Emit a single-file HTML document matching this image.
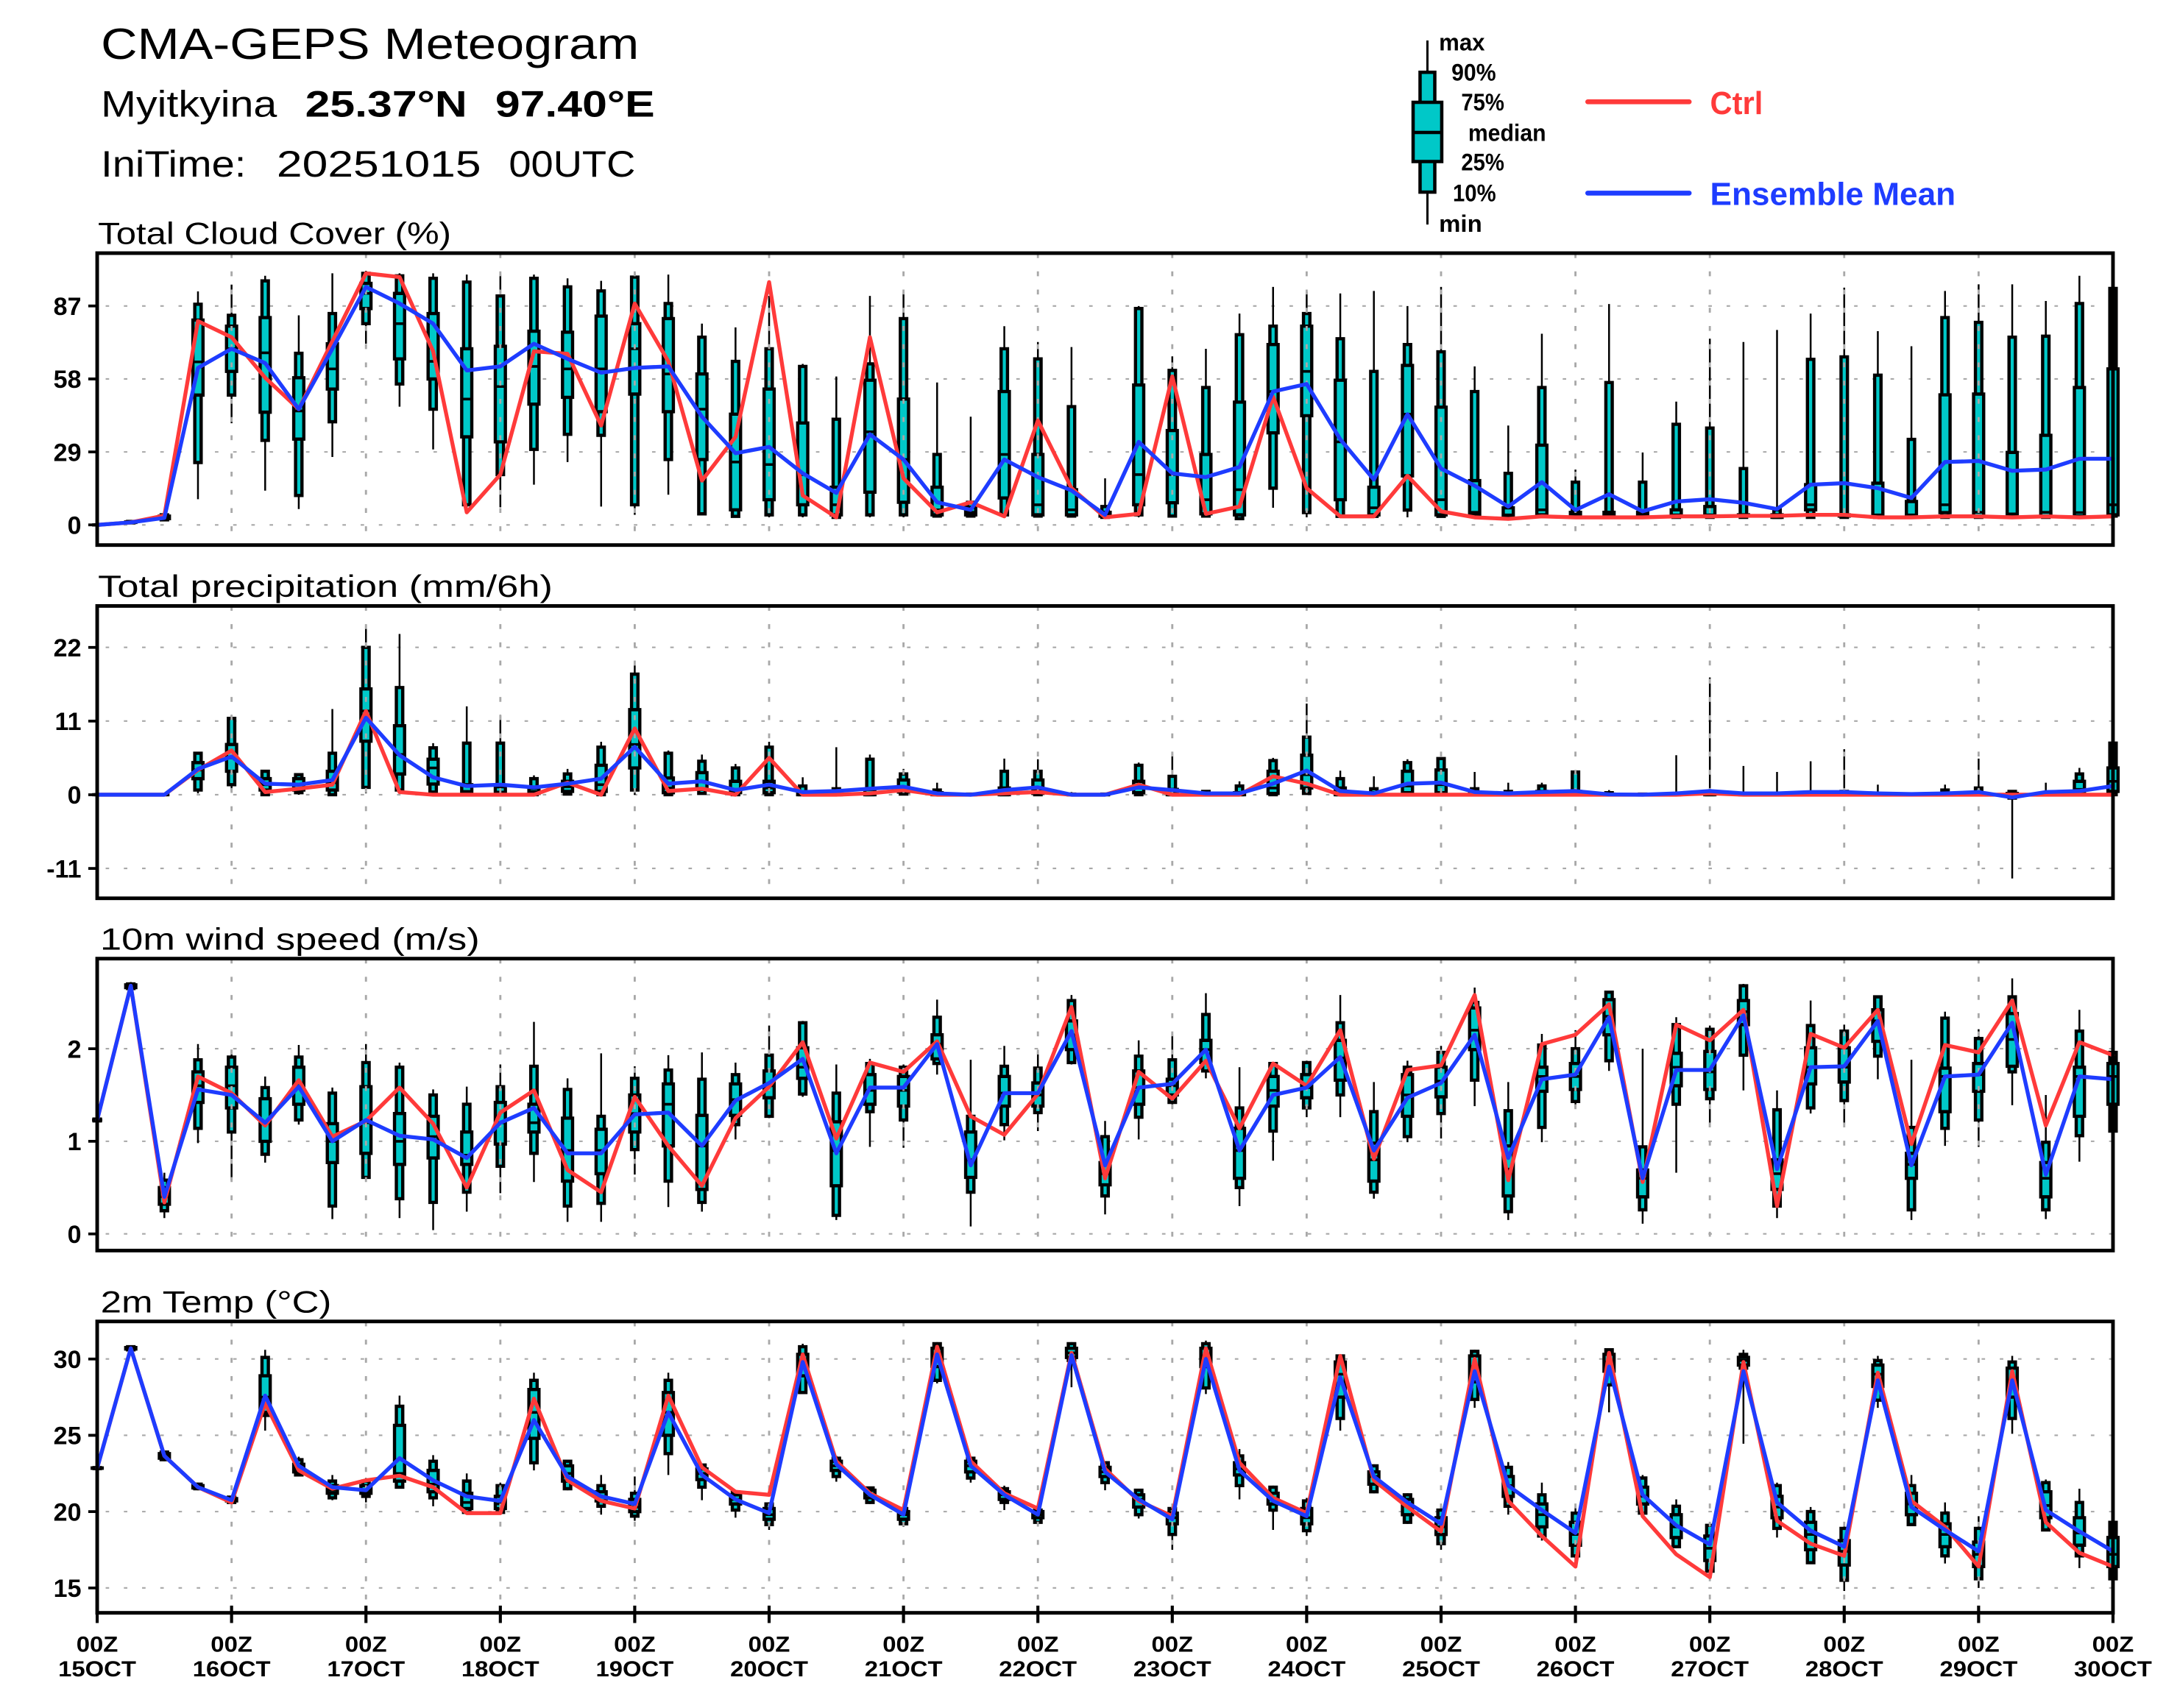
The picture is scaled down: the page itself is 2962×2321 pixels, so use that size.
<!DOCTYPE html>
<html>
<head>
<meta charset="utf-8">
<style>
html,body{margin:0;padding:0;background:#fff;}
svg{display:block;}
.d path,.d polyline{vector-effect:non-scaling-stroke;}
.wh{fill:none;stroke:#000;stroke-width:2.5;}
.bx{fill:#00c8c8;stroke:#000;stroke-width:4.4;stroke-linejoin:miter;}
.md{fill:none;stroke:#000;stroke-width:3.6;}
.ct{fill:none;stroke:#ff3a3a;stroke-width:5.3;stroke-linejoin:round;stroke-linecap:round;}
.mn{fill:none;stroke:#1e3cff;stroke-width:5.3;stroke-linejoin:round;stroke-linecap:round;}
text{font-family:"Liberation Sans",Arial,sans-serif;fill:#000;}
.tk{font-weight:bold;font-size:18px;}
.xl{font-weight:bold;font-size:15.5px;}
.pt{font-size:22px;}
.lg{font-weight:bold;font-size:17px;}
</style>
</head>
<body>
<svg width="2962" height="2321">
<defs>
<path id="vg" d="M166.56 0V210M263.22 0V210M359.88 0V210M456.54 0V210M553.2 0V210M649.86 0V210M746.52 0V210M843.18 0V210M939.84 0V210M1036.5 0V210M1133.16 0V210M1229.82 0V210M1326.48 0V210M1423.14 0V210"/>
</defs>
<rect x="0" y="0" width="2962" height="2321" fill="#fff"/>

<!-- horizontal grid -->
<g transform="scale(1.88903)">
<path d="M76 220.1H1519M76 272.6H1519M76 325.1H1519M76 377.6H1519M76 465.7H1519M76 518.7H1519M76 571.7H1519M76 624.7H1519M76 754.4H1519M76 821H1519M76 887.6H1519M76 977.6H1519M76 1032.5H1519M76 1087.4H1519M76 1142.3H1519" fill="none" stroke="#a8a8a8" stroke-width="1.1" stroke-dasharray="2.5 10.6"/>
</g>

<!-- Panel 1 boxes: cloud -->
<g class="d" transform="matrix(45.649 0 0 -3.4191 132.04 713.30)">
<path class="wh" d="M0 0V.5M1 .5V1.6M2 1.5V4.5M3 10.2V92.8M4 40.4V95.5M5 13.6V99M6 6.3V83.3M7 27V100M8 72V101M9 47V100M10 30V100M11 5V99.5M12 7V99.5M13 16V99.5M14 25V98M15 7.3V97M16 4V100M17 12V99.5M18 4V80M19 3V78.5M20 3V91M21 3V64M22 3V59M23 3V91M24 3V92M25 3V56.6M26 3V43M27 3V79M28 3V72.7M29 3V70.7M30 2.5V18.5M31 3V87M32 3V67M33 3V70M34 2V84M35 6.8V94.6M36 3V92.7M37 3V92M38 3V93M39 3V87M40 3V94.6M41 3V63M42 2.5V39.5M43 3V76M44 3V22M45 3V87.8M46 3V28.8M47 3V49M48 3V74M49 3V72.7M50 3V77.5M51 3V84M52 3V94.3M53 3V77M54 3V71M55 3V93M56 3V95.6M57 3V95.6M58 3V89M59 3V99M60 3V94.3"/>
<g transform="translate(-0.095 0)">
<path class="bx" d="M0 0h.19V0h-.19zM1 .8h.19V1.4h-.19zM2 2h.19V4h-.19zM3 24.8h.19V87.7h-.19zM4 51.6h.19V83.3h-.19zM5 33.6h.19V97h-.19zM6 11.7h.19V68.2h-.19zM7 41h.19V84h-.19zM8 80h.19V100h-.19zM9 56h.19V99h-.19zM10 46h.19V98h-.19zM11 8h.19V96.5h-.19zM12 20h.19V91h-.19zM13 30h.19V98h-.19zM14 36h.19V94.6h-.19zM15 35.6h.19V93h-.19zM16 8h.19V98.5h-.19zM17 26h.19V88h-.19zM18 4.4h.19V74.6h-.19zM19 3.4h.19V65h-.19zM20 4h.19V70h-.19zM21 4h.19V63h-.19zM22 3h.19V42h-.19zM23 4h.19V64h-.19zM24 4h.19V82h-.19zM25 3.5h.19V28h-.19zM26 3.5h.19V9h-.19zM27 4h.19V70h-.19zM28 3.5h.19V66h-.19zM29 3.5h.19V47h-.19zM30 3h.19V7.3h-.19zM31 4h.19V86h-.19zM32 3.5h.19V61.4h-.19zM33 3.5h.19V54.6h-.19zM34 2.5h.19V75.6h-.19zM35 14.6h.19V79h-.19zM36 4.9h.19V84h-.19zM37 3.4h.19V74h-.19zM38 3.4h.19V61h-.19zM39 5.9h.19V71.7h-.19zM40 3.4h.19V68.8h-.19zM41 3.4h.19V53h-.19zM42 3h.19V20.5h-.19zM43 3.4h.19V54.6h-.19zM44 3h.19V17h-.19zM45 3h.19V56.6h-.19zM46 3h.19V17h-.19zM47 3h.19V40h-.19zM48 3h.19V38.5h-.19zM49 3h.19V22.4h-.19zM50 3h.19V6h-.19zM51 3h.19V65.8h-.19zM52 3h.19V66.8h-.19zM53 3h.19V59.5h-.19zM54 3h.19V34h-.19zM55 3h.19V82.4h-.19zM56 3h.19V80.5h-.19zM57 3h.19V74.6h-.19zM58 3h.19V75h-.19zM59 3h.19V88h-.19zM60 3.5h.19V94h-.19z"/>
</g>
<g transform="translate(-0.15 0)">
<path class="bx" d="M0 0h.3V0h-.3zM1 1h.3V1.2h-.3zM2 2.5h.3V3.5h-.3zM3 51.6h.3V81.4h-.3zM4 61h.3V79h-.3zM5 44.8h.3V82.4h-.3zM6 34.1h.3V58.5h-.3zM7 54h.3V72h-.3zM8 86h.3V96h-.3zM9 66h.3V92h-.3zM10 58h.3V84h-.3zM11 35h.3V70h-.3zM12 33h.3V71h-.3zM13 48h.3V77h-.3zM14 50.7h.3V76.6h-.3zM15 45h.3V83h-.3zM16 52h.3V80h-.3zM17 45h.3V82h-.3zM18 26h.3V60h-.3zM19 6h.3V44h-.3zM20 10h.3V54h-.3zM21 8h.3V40.5h-.3zM22 4h.3V15h-.3zM23 13h.3V57.5h-.3zM24 9h.3V50h-.3zM25 4h.3V15h-.3zM26 4h.3V7h-.3zM27 10.7h.3V53h-.3zM28 4h.3V28h-.3zM29 4h.3V14h-.3zM30 3.5h.3V5h-.3zM31 8h.3V55.6h-.3zM32 8.8h.3V37.5h-.3zM33 4.4h.3V28h-.3zM34 4h.3V48.8h-.3zM35 36.6h.3V71.7h-.3zM36 43.4h.3V79h-.3zM37 10h.3V57.5h-.3zM38 4h.3V15h-.3zM39 19.5h.3V63.4h-.3zM40 4h.3V46.8h-.3zM41 4h.3V17.6h-.3zM42 3.5h.3V6.8h-.3zM43 4h.3V31.7h-.3zM44 3.5h.3V5h-.3zM45 3.5h.3V5h-.3zM46 3.5h.3V5h-.3zM47 3.5h.3V6h-.3zM48 3.5h.3V7.3h-.3zM49 3.5h.3V4h-.3zM50 3h.3V4h-.3zM51 6h.3V16h-.3zM52 3.5h.3V4h-.3zM53 3.5h.3V16.6h-.3zM54 3.5h.3V9.3h-.3zM55 4.9h.3V51.7h-.3zM56 3.5h.3V52h-.3zM57 3.5h.3V28.8h-.3zM58 3.5h.3V35.6h-.3zM59 3.5h.3V54.6h-.3zM60 4h.3V62h-.3z"/>
<path class="md" d="M0 0h.3M1 1h.3M2 3h.3M3 64.8h.3M4 70h.3M5 68.4h.3M6 45.3h.3M7 62h.3M8 92h.3M9 80h.3M10 65h.3M11 50h.3M12 55h.3M13 63h.3M14 62h.3M15 62h.3M16 70h.3M17 60h.3M18 46h.3M19 25h.3M20 24h.3M21 20h.3M22 8h.3M23 37h.3M24 26h.3M25 6h.3M26 5h.3M27 28h.3M28 8h.3M29 6h.3M30 4h.3M31 20h.3M32 20h.3M33 10h.3M34 14h.3M35 53h.3M36 61h.3M37 33h.3M38 6.8h.3M39 44h.3M40 10h.3M41 5h.3M42 4h.3M43 6h.3M44 4h.3M45 4h.3M46 4h.3M47 4h.3M48 4h.3M49 4h.3M50 3.5h.3M51 8h.3M52 4h.3M53 4h.3M54 4h.3M55 8h.3M56 5h.3M57 4.4h.3M58 5h.3M59 4.9h.3M60 8h.3"/>
</g>
</g>

<!-- Panel 2 boxes: precip -->
<g class="d" transform="matrix(45.649 0 0 -9.1013 132.04 1079.96)">
<path class="wh" d="M0 0V.1M1 0V.2M2 0V.2M3 .2V6.4M4 .5V11.9M5 0V3.7M6 0V3.1M7 0V12.8M8 .2V25.3M9 .2V24M10 0V7.7M11 0V13.2M12 0V11.9M13 0V2.9M14 0V3.85M15 0V7.9M16 0V19.3M17 0V6.6M18 0V6M19 0V4.6M20 0V7.9M21 0V2.6M22 0V7.1M23 0V6M24 0V3.85M25 0V1.8M26 0V.2M27 0V5.4M28 0V5.3M29 0V.4M30 0V.2M31 0V4.8M32 0V6.4M33 0V.7M34 0V2M35 0V5.5M36 0V13.6M37 0V3.6M38 0V2.75M39 0V5.3M40 0V5.6M41 0V3.4M42 0V1.8M43 0V1.8M44 0V3.5M45 0V.7M46 0V.3M47 0V5.9M48 0V17.5M49 0V4.3M50 0V3.4M51 0V5M52 0V6.8M53 0V1.5M54 0V.3M55 0V1.5M56 0V5.4M57 -12.5V.55M58 0V1.8M59 0V4M60 0V7.9"/>
<g transform="translate(-0.095 0)">
<path class="bx" d="M0 0h.19V0h-.19zM1 0h.19V0h-.19zM2 0h.19V0h-.19zM3 .7h.19V6.2h-.19zM4 1.5h.19V11.4h-.19zM5 0h.19V3.5h-.19zM6 .3h.19V3h-.19zM7 0h.19V6.2h-.19zM8 1.1h.19V22h-.19zM9 .7h.19V16h-.19zM10 .4h.19V7h-.19zM11 0h.19V7.7h-.19zM12 0h.19V7.7h-.19zM13 0h.19V2.4h-.19zM14 .1h.19V3.1h-.19zM15 0h.19V7.1h-.19zM16 .7h.19V18h-.19zM17 0h.19V6.2h-.19zM18 .2h.19V5h-.19zM19 0h.19V4h-.19zM20 0h.19V7.1h-.19zM21 0h.19V1.3h-.19zM22 0h.19V.9h-.19zM23 0h.19V5.3h-.19zM24 .1h.19V3.1h-.19zM25 0h.19V.7h-.19zM26 0h.19V.1h-.19zM27 0h.19V3.5h-.19zM28 0h.19V3.5h-.19zM29 0h.19V.1h-.19zM30 0h.19V.1h-.19zM31 0h.19V4.4h-.19zM32 0h.19V2.75h-.19zM33 0h.19V.5h-.19zM34 0h.19V1.3h-.19zM35 0h.19V5.1h-.19zM36 .2h.19V8.6h-.19zM37 0h.19V2.4h-.19zM38 0h.19V.9h-.19zM39 0h.19V4.8h-.19zM40 0h.19V5.4h-.19zM41 0h.19V.9h-.19zM42 0h.19V.5h-.19zM43 0h.19V1.3h-.19zM44 0h.19V3.4h-.19zM45 0h.19V.3h-.19zM46 0h.19V.1h-.19zM47 0h.19V.1h-.19zM48 0h.19V.3h-.19zM49 0h.19V.1h-.19zM50 0h.19V.1h-.19zM51 0h.19V.2h-.19zM52 0h.19V.5h-.19zM53 0h.19V.1h-.19zM54 0h.19V.1h-.19zM55 0h.19V.7h-.19zM56 0h.19V1h-.19zM57 -.5h.19V.5h-.19zM58 0h.19V.1h-.19zM59 0h.19V3.1h-.19zM60 0h.19V7.7h-.19z"/>
</g>
<g transform="translate(-0.15 0)">
<path class="bx" d="M0 0h.3V0h-.3zM1 0h.3V0h-.3zM2 0h.3V0h-.3zM3 2.4h.3V4.8h-.3zM4 3.5h.3V7.5h-.3zM5 .7h.3V2.4h-.3zM6 .7h.3V2.4h-.3zM7 .7h.3V3.5h-.3zM8 8h.3V15.8h-.3zM9 3.1h.3V10.3h-.3zM10 1.6h.3V5.3h-.3zM11 .2h.3V1.5h-.3zM12 .2h.3V1.2h-.3zM13 .2h.3V1h-.3zM14 .5h.3V2h-.3zM15 .5h.3V4.4h-.3zM16 4h.3V12.7h-.3zM17 .3h.3V2.5h-.3zM18 .8h.3V3.3h-.3zM19 .3h.3V2h-.3zM20 .3h.3V2h-.3zM21 0h.3V.4h-.3zM22 0h.3V.2h-.3zM23 0h.3V.8h-.3zM24 .4h.3V2.2h-.3zM25 0h.3V.3h-.3zM26 0h.3V.05h-.3zM27 0h.3V1h-.3zM28 .2h.3V2.2h-.3zM29 0h.3V0h-.3zM30 0h.3V0h-.3zM31 .3h.3V2h-.3zM32 0h.3V.8h-.3zM33 0h.3V.2h-.3zM34 0h.3V.3h-.3zM35 .2h.3V3.5h-.3zM36 1h.3V5.9h-.3zM37 0h.3V1h-.3zM38 0h.3V.3h-.3zM39 .3h.3V3.5h-.3zM40 .3h.3V3.7h-.3zM41 0h.3V.4h-.3zM42 0h.3V.1h-.3zM43 0h.3V.5h-.3zM44 0h.3V.5h-.3zM45 0h.3V.1h-.3zM46 0h.3V0h-.3zM47 0h.3V0h-.3zM48 0h.3V.1h-.3zM49 0h.3V0h-.3zM50 0h.3V0h-.3zM51 0h.3V.1h-.3zM52 0h.3V.2h-.3zM53 0h.3V0h-.3zM54 0h.3V0h-.3zM55 0h.3V.2h-.3zM56 0h.3V.2h-.3zM57 -.2h.3V.2h-.3zM58 0h.3V0h-.3zM59 .2h.3V2h-.3zM60 .5h.3V4h-.3z"/>
<path class="md" d="M0 0h.3M1 0h.3M2 0h.3M3 3.7h.3M4 5.5h.3M5 1.5h.3M6 1.5h.3M7 1.8h.3M8 12.5h.3M9 6h.3M10 4h.3M11 .5h.3M12 .4h.3M13 .5h.3M14 1.2h.3M15 1.5h.3M16 7.5h.3M17 1h.3M18 2h.3M19 .8h.3M20 1h.3M21 .1h.3M22 0h.3M23 .2h.3M24 1h.3M25 .1h.3M26 0h.3M27 .2h.3M28 .8h.3M29 0h.3M30 0h.3M31 1h.3M32 .2h.3M33 0h.3M34 0h.3M35 1h.3M36 3h.3M37 .2h.3M38 .1h.3M39 1.3h.3M40 1.5h.3M41 .1h.3M42 0h.3M43 .2h.3M44 .2h.3M45 0h.3M46 0h.3M47 0h.3M48 0h.3M49 0h.3M50 0h.3M51 0h.3M52 0h.3M53 0h.3M54 0h.3M55 0h.3M56 0h.3M57 0h.3M58 0h.3M59 .8h.3M60 2h.3"/>
</g>
</g>

<!-- Panel 3 boxes: wind -->
<g class="d" transform="matrix(45.649 0 0 -125.81 132.04 1676.70)">
<path class="wh" d="M0 1.22V1.24M1 2.64V2.72M2 .17V.66M3 .98V2.05M4 .58V1.99M5 .77V1.7M6 1.18V2.04M7 .16V1.58M8 .57V2.05M9 .17V1.85M10 .04V1.56M11 .24V1.59M12 .44V1.83M13 .56V2.29M14 .13V1.68M15 .13V1.95M16 .64V1.81M17 .29V1.93M18 .24V1.96M19 1.02V1.85M20 1.25V2.25M21 1.48V2.3M22 .15V1.83M23 .94V1.89M24 .93V1.83M25 1.72V2.53M26 .08V1.88M27 1.01V2.03M28 1.11V1.97M29 1.83V2.58M30 .21V1.22M31 1.02V2.09M32 1.35V2.15M33 1.68V2.6M34 .3V1.8M35 .79V1.85M36 1.26V1.87M37 1.26V2.58M38 .38V1.64M39 .99V1.87M40 1.03V2.03M41 1.38V2.66M42 .15V1.64M43 .99V2.16M44 1.36V2.2M45 1.76V2.62M46 .11V2M47 .66V2.34M48 1.15V2.25M49 1.55V2.7M50 .17V1.55M51 1.3V2.52M52 1.18V2.26M53 1.67V2.57M54 .15V1.88M55 .95V2.4M56 .94V2.21M57 1.39V2.76M58 .16V1.5M59 .78V2.42M60 1.11V2.13"/>
<g transform="translate(-0.095 0)">
<path class="bx" d="M0 1.22h.19V1.24h-.19zM1 2.65h.19V2.7h-.19zM2 .25h.19V.58h-.19zM3 1.14h.19V1.88h-.19zM4 1.1h.19V1.91h-.19zM5 .86h.19V1.58h-.19zM6 1.23h.19V1.91h-.19zM7 .3h.19V1.52h-.19zM8 .61h.19V1.85h-.19zM9 .38h.19V1.8h-.19zM10 .34h.19V1.5h-.19zM11 .45h.19V1.4h-.19zM12 .73h.19V1.59h-.19zM13 .87h.19V1.81h-.19zM14 .3h.19V1.56h-.19zM15 .33h.19V1.27h-.19zM16 .91h.19V1.68h-.19zM17 .57h.19V1.77h-.19zM18 .34h.19V1.67h-.19zM19 1.18h.19V1.72h-.19zM20 1.27h.19V1.93h-.19zM21 1.51h.19V2.28h-.19zM22 .2h.19V1.52h-.19zM23 1.32h.19V1.84h-.19zM24 1.23h.19V1.8h-.19zM25 1.84h.19V2.34h-.19zM26 .45h.19V1.27h-.19zM27 1.18h.19V1.81h-.19zM28 1.31h.19V1.79h-.19zM29 1.85h.19V2.52h-.19zM30 .41h.19V1.05h-.19zM31 1.26h.19V1.92h-.19zM32 1.42h.19V1.88h-.19zM33 1.76h.19V2.37h-.19zM34 .5h.19V1.36h-.19zM35 1.11h.19V1.84h-.19zM36 1.36h.19V1.85h-.19zM37 1.5h.19V2.28h-.19zM38 .45h.19V1.32h-.19zM39 1.05h.19V1.8h-.19zM40 1.3h.19V1.96h-.19zM41 1.66h.19V2.5h-.19zM42 .24h.19V1.33h-.19zM43 1.15h.19V2.04h-.19zM44 1.43h.19V2h-.19zM45 1.87h.19V2.61h-.19zM46 .26h.19V.94h-.19zM47 1.4h.19V2.26h-.19zM48 1.46h.19V2.21h-.19zM49 1.93h.19V2.68h-.19zM50 .3h.19V1.34h-.19zM51 1.36h.19V2.25h-.19zM52 1.44h.19V2.19h-.19zM53 1.92h.19V2.56h-.19zM54 .26h.19V1.15h-.19zM55 1.14h.19V2.33h-.19zM56 1.23h.19V2.11h-.19zM57 1.75h.19V2.56h-.19zM58 .26h.19V.99h-.19zM59 1.06h.19V2.19h-.19zM60 1.11h.19V1.96h-.19z"/>
</g>
<g transform="translate(-0.15 0)">
<path class="bx" d="M0 1.23h.3V1.23h-.3zM1 2.66h.3V2.69h-.3zM2 .32h.3V.5h-.3zM3 1.42h.3V1.75h-.3zM4 1.36h.3V1.8h-.3zM5 1h.3V1.46h-.3zM6 1.4h.3V1.8h-.3zM7 .77h.3V1.19h-.3zM8 .87h.3V1.59h-.3zM9 .75h.3V1.3h-.3zM10 .82h.3V1.27h-.3zM11 .75h.3V1.1h-.3zM12 .97h.3V1.42h-.3zM13 1.1h.3V1.4h-.3zM14 .57h.3V1.25h-.3zM15 .65h.3V1.13h-.3zM16 1.1h.3V1.5h-.3zM17 .95h.3V1.62h-.3zM18 .48h.3V1.28h-.3zM19 1.28h.3V1.62h-.3zM20 1.47h.3V1.76h-.3zM21 1.68h.3V2.01h-.3zM22 .52h.3V1.21h-.3zM23 1.4h.3V1.72h-.3zM24 1.38h.3V1.7h-.3zM25 1.89h.3V2.15h-.3zM26 .61h.3V1.1h-.3zM27 1.38h.3V1.7h-.3zM28 1.38h.3V1.63h-.3zM29 1.99h.3V2.3h-.3zM30 .53h.3V.77h-.3zM31 1.4h.3V1.76h-.3zM32 1.5h.3V1.67h-.3zM33 1.85h.3V2.09h-.3zM34 .6h.3V1.14h-.3zM35 1.38h.3V1.7h-.3zM36 1.47h.3V1.72h-.3zM37 1.66h.3V2.09h-.3zM38 .57h.3V.98h-.3zM39 1.27h.3V1.72h-.3zM40 1.48h.3V1.8h-.3zM41 1.99h.3V2.44h-.3zM42 .41h.3V.95h-.3zM43 1.54h.3V1.8h-.3zM44 1.56h.3V1.84h-.3zM45 2.15h.3V2.53h-.3zM46 .4h.3V.69h-.3zM47 1.6h.3V1.95h-.3zM48 1.56h.3V1.97h-.3zM49 2.26h.3V2.52h-.3zM50 .48h.3V.8h-.3zM51 1.62h.3V2.01h-.3zM52 1.64h.3V2.01h-.3zM53 2.08h.3V2.42h-.3zM54 .6h.3V.87h-.3zM55 1.32h.3V1.79h-.3zM56 1.54h.3V1.84h-.3zM57 1.81h.3V2.38h-.3zM58 .4h.3V.77h-.3zM59 1.27h.3V1.8h-.3zM60 1.4h.3V1.84h-.3z"/>
<path class="md" d="M0 1.23h.3M1 2.68h.3M2 .4h.3M3 1.6h.3M4 1.6h.3M5 1.2h.3M6 1.6h.3M7 1h.3M8 1.2h.3M9 1h.3M10 1.05h.3M11 .85h.3M12 1.2h.3M13 1.2h.3M14 .9h.3M15 .9h.3M16 1.3h.3M17 1.4h.3M18 .95h.3M19 1.45h.3M20 1.6h.3M21 1.8h.3M22 .9h.3M23 1.55h.3M24 1.55h.3M25 2.05h.3M26 .8h.3M27 1.52h.3M28 1.5h.3M29 2.15h.3M30 .65h.3M31 1.58h.3M32 1.6h.3M33 1.99h.3M34 .9h.3M35 1.55h.3M36 1.58h.3M37 1.9h.3M38 .8h.3M39 1.5h.3M40 1.65h.3M41 2.2h.3M42 .7h.3M43 1.7h.3M44 1.7h.3M45 2.35h.3M46 .6h.3M47 1.8h.3M48 1.75h.3M49 2.4h.3M50 .65h.3M51 1.8h.3M52 1.8h.3M53 2.3h.3M54 .75h.3M55 1.7h.3M56 1.72h.3M57 2.1h.3M58 .6h.3M59 1.7h.3M60 1.7h.3"/>
</g>
</g>

<!-- Panel 4 boxes: temp -->
<g class="d" transform="matrix(45.649 0 0 -20.742 132.04 2468.96)">
<path class="wh" d="M0 22.8V22.9M1 30.5V30.85M2 23.3V24M3 21.4V21.9M4 20.5V21M5 25.3V30.6M6 22.3V23.6M7 20.75V22.4M8 20.6V22.2M9 21.5V27.6M10 20.35V23.7M11 19.9V22.5M12 19.9V21.9M13 22.7V29.1M14 21.4V23.4M15 19.8V22.4M16 19.4V22.3M17 22.4V29.1M18 20.75V23.1M19 19.6V21.4M20 18.8V20.6M21 27.7V31M22 21.96V23.65M23 20.5V21.6M24 19V20.3M25 28.4V31.1M26 21.9V23.6M27 20.1V21.7M28 19.15V20.2M29 28.15V31.1M30 21.4V23.3M31 19.55V21.5M32 17.5V20.5M33 27.7V31.2M34 20.8V24.1M35 18.8V21.7M36 18.4V20.9M37 25.3V30.3M38 21.2V23.1M39 19.2V21.2M40 17.5V20.35M41 26.8V30.6M42 19.8V23.25M43 18.1V21.9M44 16.7V20.3M45 26.5V30.7M46 19.8V22.4M47 17.6V20.8M48 16V19.3M49 24.45V30.6M50 18.3V21.9M51 16.6V20.3M52 14.8V19.1M53 26.8V30.2M54 19.1V22.4M55 16.6V20.6M56 15V19.7M57 25.1V30.2M58 18.8V22.1M59 16.3V21.5M60 15.6V19.55"/>
<g transform="translate(-0.095 0)">
<path class="bx" d="M0 22.82h.19V22.88h-.19zM1 30.6h.19V30.8h-.19zM2 23.4h.19V23.9h-.19zM3 21.5h.19V21.8h-.19zM4 20.6h.19V20.95h-.19zM5 26.3h.19V30.1h-.19zM6 22.4h.19V23.4h-.19zM7 20.9h.19V22h-.19zM8 21h.19V22h-.19zM9 21.6h.19V26.9h-.19zM10 20.9h.19V23.3h-.19zM11 19.95h.19V22h-.19zM12 19.95h.19V21.7h-.19zM13 23.2h.19V28.6h-.19zM14 21.5h.19V23.3h-.19zM15 20.35h.19V21.7h-.19zM16 19.7h.19V21.2h-.19zM17 23.8h.19V28.6h-.19zM18 21.6h.19V23.05h-.19zM19 20.1h.19V21.3h-.19zM20 19.15h.19V20.5h-.19zM21 27.8h.19V30.8h-.19zM22 22.3h.19V23.5h-.19zM23 20.6h.19V21.55h-.19zM24 19.2h.19V20.2h-.19zM25 28.6h.19V31h-.19zM26 22.2h.19V23.5h-.19zM27 20.6h.19V21.5h-.19zM28 19.3h.19V20.1h-.19zM29 29.9h.19V31h-.19zM30 21.9h.19V23.2h-.19zM31 19.8h.19V21.4h-.19zM32 18.5h.19V20.2h-.19zM33 28.1h.19V31h-.19zM34 21.7h.19V23.65h-.19zM35 20.1h.19V21.6h-.19zM36 18.75h.19V20.7h-.19zM37 26.1h.19V30.2h-.19zM38 21.3h.19V23h-.19zM39 19.3h.19V21.1h-.19zM40 17.9h.19V20.1h-.19zM41 27.35h.19V30.5h-.19zM42 20.35h.19V22.9h-.19zM43 18.4h.19V21.1h-.19zM44 17.1h.19V19.9h-.19zM45 28.3h.19V30.6h-.19zM46 19.9h.19V22.2h-.19zM47 17.7h.19V20.35h-.19zM48 16.1h.19V19.1h-.19zM49 29.4h.19V30.3h-.19zM50 18.9h.19V21.7h-.19zM51 16.65h.19V20h-.19zM52 15.5h.19V18.9h-.19zM53 27.3h.19V29.9h-.19zM54 19.15h.19V21.7h-.19zM55 17.1h.19V19.9h-.19zM56 15.6h.19V18.9h-.19zM57 26.1h.19V29.8h-.19zM58 18.8h.19V21.9h-.19zM59 17.1h.19V20.6h-.19zM60 15.6h.19V19.3h-.19z"/>
</g>
<g transform="translate(-0.15 0)">
<path class="bx" d="M0 22.84h.3V22.86h-.3zM1 30.65h.3V30.75h-.3zM2 23.5h.3V23.8h-.3zM3 21.55h.3V21.7h-.3zM4 20.7h.3V20.85h-.3zM5 26.5h.3V28.9h-.3zM6 22.6h.3V23.1h-.3zM7 21.2h.3V21.7h-.3zM8 21.2h.3V21.7h-.3zM9 22h.3V25.65h-.3zM10 21.3h.3V22.7h-.3zM11 20.2h.3V21.2h-.3zM12 20.2h.3V21h-.3zM13 24.8h.3V28h-.3zM14 22h.3V23h-.3zM15 20.7h.3V21.3h-.3zM16 20h.3V20.8h-.3zM17 25h.3V27.8h-.3zM18 22.1h.3V22.8h-.3zM19 20.5h.3V21.1h-.3zM20 19.5h.3V20.2h-.3zM21 28.9h.3V30.3h-.3zM22 22.7h.3V23.3h-.3zM23 20.9h.3V21.4h-.3zM24 19.5h.3V20h-.3zM25 29.5h.3V30.7h-.3zM26 22.6h.3V23.3h-.3zM27 20.8h.3V21.3h-.3zM28 19.6h.3V20h-.3zM29 30.1h.3V30.7h-.3zM30 22.3h.3V22.9h-.3zM31 20.3h.3V21.1h-.3zM32 19.2h.3V19.9h-.3zM33 29.5h.3V30.7h-.3zM34 22.4h.3V23.2h-.3zM35 20.5h.3V21.2h-.3zM36 19.2h.3V20.2h-.3zM37 27.5h.3V29.8h-.3zM38 21.8h.3V22.6h-.3zM39 19.8h.3V20.8h-.3zM40 18.5h.3V19.6h-.3zM41 28.5h.3V30.2h-.3zM42 21h.3V22.3h-.3zM43 19h.3V20.5h-.3zM44 17.8h.3V19.3h-.3zM45 29.2h.3V30.3h-.3zM46 20.5h.3V21.6h-.3zM47 18.3h.3V19.8h-.3zM48 16.8h.3V18.4h-.3zM49 29.6h.3V30.1h-.3zM50 19.6h.3V21h-.3zM51 17.5h.3V19.3h-.3zM52 16.5h.3V18.1h-.3zM53 28.2h.3V29.6h-.3zM54 19.8h.3V21.2h-.3zM55 17.7h.3V19.2h-.3zM56 16.4h.3V18h-.3zM57 27.5h.3V29.4h-.3zM58 19.6h.3V21.3h-.3zM59 17.8h.3V19.6h-.3zM60 16.4h.3V18.3h-.3z"/>
<path class="md" d="M0 22.85h.3M1 30.7h.3M2 23.65h.3M3 21.6h.3M4 20.75h.3M5 27.5h.3M6 22.8h.3M7 21.4h.3M8 21.4h.3M9 22.5h.3M10 21.8h.3M11 20.6h.3M12 20.5h.3M13 26.5h.3M14 22.5h.3M15 21h.3M16 20.3h.3M17 26.5h.3M18 22.5h.3M19 20.8h.3M20 19.8h.3M21 29.8h.3M22 23h.3M23 21.1h.3M24 19.8h.3M25 30.2h.3M26 23h.3M27 21.1h.3M28 19.8h.3M29 30.4h.3M30 22.6h.3M31 20.8h.3M32 19.6h.3M33 30.2h.3M34 22.8h.3M35 20.8h.3M36 19.6h.3M37 29h.3M38 22.3h.3M39 20.4h.3M40 19h.3M41 29.5h.3M42 21.7h.3M43 19.8h.3M44 18.5h.3M45 29.8h.3M46 21h.3M47 19h.3M48 17.6h.3M49 29.9h.3M50 20.3h.3M51 18.5h.3M52 17.4h.3M53 29h.3M54 20.5h.3M55 18.5h.3M56 17.2h.3M57 28.6h.3M58 20.4h.3M59 18.6h.3M60 17.2h.3"/>
</g>
</g>

<!-- vertical dashed grid over boxes -->
<g transform="scale(1.88903)" fill="none" stroke="#a8a8a8" stroke-width="1.5" stroke-dasharray="3.5 9.6">
<use href="#vg" x="0" y="182.1"/>
<use href="#vg" x="0" y="435.9"/>
<use href="#vg" x="0" y="689.6"/>
<use href="#vg" x="0" y="950.6"/>
</g>

<!-- series lines -->
<g class="d" transform="matrix(45.649 0 0 -3.4191 132.04 713.30)">
<polyline class="ct" points="0,0 1,1 2,3.7 3,81 4,74.6 5,58.5 6,46 7,73 8,100 9,98.5 10,69 11,5 12,20 13,69 14,68 15,39.5 16,88 17,65 18,17.6 19,35 20,96.5 21,11.7 22,3 23,74.6 24,18.5 25,5 26,9 27,3.4 28,41.5 29,14.6 30,3 31,4.4 32,59 33,4.4 34,7.3 35,51 36,14.6 37,3.4 38,3.4 39,19.5 40,5.4 41,3 42,2.4 43,3.4 44,3 45,3 46,3 47,3.4 48,3.4 49,3.6 50,3.6 51,4 52,4 53,3 54,3 55,3.4 56,3.4 57,3 58,3.4 59,3 60,3.4"/>
<polyline class="mn" points="0,0 1,1 2,2.8 3,62.4 4,70 5,64.3 6,46 7,70 8,94.6 9,88 10,80 11,61.4 12,63 13,72 14,66 15,60.5 16,62.4 17,63 18,43 19,28.5 20,31 21,20.5 22,12.7 23,36 24,26 25,9 26,6 27,26 28,19 29,13.7 30,4 31,33 32,20.5 33,19 34,23 35,53 36,56 37,34 38,18 39,44 40,22.4 41,15.6 42,7.3 43,17 44,5.9 45,12.2 46,5.4 47,9.3 48,10.2 49,8.8 50,6.3 51,16 52,16.6 53,14.6 54,10.7 55,25 56,25.4 57,21.5 58,22 59,26.3 60,26.3"/>
</g>
<g class="d" transform="matrix(45.649 0 0 -9.1013 132.04 1079.96)">
<polyline class="ct" points="0,0 1,0 2,0 3,3.7 4,6.6 5,.4 6,.9 7,1.5 8,12.5 9,.4 10,0 11,0 12,0 13,0 14,1.8 15,0 16,9.9 17,.55 18,.9 19,0 20,5.5 21,0 22,0 23,.2 24,.7 25,0 26,0 27,.2 28,.4 29,0 30,0 31,1.5 32,0 33,0 34,0 35,2.75 36,1.65 37,0 38,0 39,0 40,0 41,0 42,0 43,0 44,0 45,0 46,0 47,0 48,.2 49,0 50,0 51,0 52,0 53,0 54,0 55,0 56,0 57,0 58,0 59,0 60,0"/>
<polyline class="mn" points="0,0 1,0 2,0 3,3.85 4,5.7 5,1.65 6,1.5 7,2.2 8,11.5 9,5.9 10,2.6 11,1.3 12,1.5 13,1.1 14,1.65 15,2.4 16,7.15 17,1.65 18,2 19,.7 20,1.5 21,.4 22,.55 23,.9 24,1.2 25,.2 26,0 27,.7 28,1.1 29,0 30,0 31,1.1 32,.7 33,.2 34,.2 35,1.65 36,3.6 37,.55 38,.2 39,1.65 40,1.8 41,.4 42,.2 43,.4 44,.55 45,.05 46,0 47,.2 48,.55 49,.2 50,.2 51,.4 52,.4 53,.2 54,.1 55,.2 56,.4 57,-.4 58,.4 59,.55 60,1.3"/>
</g>
<g class="d" transform="matrix(45.649 0 0 -125.81 132.04 1676.70)">
<polyline class="ct" points="0,1.23 1,2.68 2,.34 3,1.7 4,1.52 5,1.17 6,1.66 7,1.05 8,1.22 9,1.58 10,1.19 11,.5 12,1.31 13,1.55 14,.69 15,.45 16,1.48 17,.95 18,.52 19,1.25 20,1.59 21,2.07 22,1.03 23,1.85 24,1.75 25,2.08 26,1.27 27,1.07 28,1.51 29,2.45 30,.6 31,1.75 32,1.46 33,1.87 34,1.14 35,1.84 36,1.6 37,2.2 38,.81 39,1.77 40,1.82 41,2.58 42,.58 43,2.05 44,2.15 45,2.48 46,.56 47,2.26 48,2.09 49,2.42 50,.3 51,2.16 52,2.01 53,2.42 54,.97 55,2.04 56,1.96 57,2.52 58,1.17 59,2.07 60,1.93"/>
<polyline class="mn" points="0,1.23 1,2.68 2,.4 3,1.56 4,1.5 5,1.2 6,1.59 7,1 8,1.23 9,1.06 10,1.02 11,.82 12,1.2 13,1.36 14,.87 15,.87 16,1.29 17,1.31 18,.95 19,1.44 20,1.63 21,1.89 22,.87 23,1.58 24,1.58 25,2.05 26,.74 27,1.52 28,1.52 29,2.19 30,.74 31,1.58 32,1.62 33,1.99 34,.9 35,1.5 36,1.58 37,1.91 38,.9 39,1.47 40,1.63 41,2.15 42,.82 43,1.67 44,1.72 45,2.34 46,.6 47,1.77 48,1.77 49,2.36 50,.7 51,1.8 52,1.81 53,2.3 54,.74 55,1.7 56,1.72 57,2.28 58,.64 59,1.7 60,1.67"/>
</g>
<g class="d" transform="matrix(45.649 0 0 -20.742 132.04 2468.96)">
<polyline class="ct" points="0,22.85 1,30.7 2,23.65 3,21.6 4,20.6 5,27.1 6,22.7 7,21.5 8,22.05 9,22.35 10,21.6 11,19.9 12,19.9 13,27.4 14,22.05 15,20.7 16,20.2 17,27.6 18,22.9 19,21.3 20,21.1 21,30.3 22,23.3 23,21.2 24,20.1 25,30.8 26,23.3 27,21.2 28,20.2 29,30.4 30,22.8 31,20.7 32,19.7 33,30.7 34,23.2 35,20.9 36,19.9 37,30.2 38,22.05 39,20.3 40,18.7 41,30 42,20.7 43,18.4 44,16.4 45,30.4 46,19.7 47,17.2 48,15.7 49,29.8 50,19.4 51,17.9 52,17.1 53,29.1 54,20.7 55,19 56,16.4 57,29.2 58,19.3 59,17.3 60,16.4"/>
<polyline class="mn" points="0,22.85 1,30.7 2,23.65 3,21.6 4,20.75 5,27.6 6,23 7,21.6 8,21.4 9,23.5 10,22.05 11,21 12,20.7 13,26 14,22.3 15,21 16,20.5 17,26.5 18,22.4 19,20.8 20,19.9 21,29.8 22,23.1 23,21.1 24,19.8 25,30.3 26,23 27,21.1 28,19.8 29,30.25 30,22.6 31,20.8 32,19.5 33,30 34,22.7 35,20.7 36,19.7 37,28.8 38,22.3 39,20.6 40,19.2 41,29.2 42,21.7 43,20.1 44,18.6 45,29.5 46,21.1 47,19.1 48,17.85 49,29.2 50,20.6 51,18.75 52,17.7 53,28.6 54,20.3 55,18.8 56,17.4 57,28.6 58,20.1 59,18.7 60,17.4"/>
</g>

<!-- frames, ticks, labels -->
<g transform="scale(1.88903)">
<g fill="none" stroke="#000" stroke-width="2.6">
<rect x="69.9" y="182.1" width="1449.9" height="210"/>
<rect x="69.9" y="435.9" width="1449.9" height="210.3"/>
<rect x="69.9" y="689.6" width="1449.9" height="210"/>
<rect x="69.9" y="950.6" width="1449.9" height="209.6"/>
</g>
<path d="M63.5 220.1H69.9M63.5 272.6H69.9M63.5 325.1H69.9M63.5 377.6H69.9M63.5 465.7H69.9M63.5 518.7H69.9M63.5 571.7H69.9M63.5 624.7H69.9M63.5 754.4H69.9M63.5 821H69.9M63.5 887.6H69.9M63.5 977.6H69.9M63.5 1032.5H69.9M63.5 1087.4H69.9M63.5 1142.3H69.9" fill="none" stroke="#000" stroke-width="2"/>
<path d="M69.9 1155V1167.5M166.56 1155V1167.5M263.22 1155V1167.5M359.88 1155V1167.5M456.54 1155V1167.5M553.2 1155V1167.5M649.86 1155V1167.5M746.52 1155V1167.5M843.18 1155V1167.5M939.84 1155V1167.5M1036.5 1155V1167.5M1133.16 1155V1167.5M1229.82 1155V1167.5M1326.48 1155V1167.5M1423.14 1155V1167.5M1519.8 1155V1167.5" fill="none" stroke="#000" stroke-width="2.2"/>

<!-- y tick labels -->
<g class="tk" text-anchor="end">
<text x="58.5" y="226.6">87</text>
<text x="58.5" y="279.1">58</text>
<text x="58.5" y="331.6">29</text>
<text x="58.5" y="384.1">0</text>
<text x="58.5" y="472.2">22</text>
<text x="58.5" y="525.2">11</text>
<text x="58.5" y="578.2">0</text>
<text x="58.5" y="631.2">-11</text>
<text x="58.5" y="760.9">2</text>
<text x="58.5" y="827.5">1</text>
<text x="58.5" y="894.1">0</text>
<text x="58.5" y="984.1">30</text>
<text x="58.5" y="1039">25</text>
<text x="58.5" y="1093.9">20</text>
<text x="58.5" y="1148.8">15</text>
</g>

<!-- x labels -->
<g class="xl">
<text x="54.9" y="1188.2" textLength="30" lengthAdjust="spacingAndGlyphs">00Z</text><text x="41.9" y="1206" textLength="56" lengthAdjust="spacingAndGlyphs">15OCT</text>
<text x="151.56" y="1188.2" textLength="30" lengthAdjust="spacingAndGlyphs">00Z</text><text x="138.56" y="1206" textLength="56" lengthAdjust="spacingAndGlyphs">16OCT</text>
<text x="248.22" y="1188.2" textLength="30" lengthAdjust="spacingAndGlyphs">00Z</text><text x="235.22" y="1206" textLength="56" lengthAdjust="spacingAndGlyphs">17OCT</text>
<text x="344.88" y="1188.2" textLength="30" lengthAdjust="spacingAndGlyphs">00Z</text><text x="331.88" y="1206" textLength="56" lengthAdjust="spacingAndGlyphs">18OCT</text>
<text x="441.54" y="1188.2" textLength="30" lengthAdjust="spacingAndGlyphs">00Z</text><text x="428.54" y="1206" textLength="56" lengthAdjust="spacingAndGlyphs">19OCT</text>
<text x="538.2" y="1188.2" textLength="30" lengthAdjust="spacingAndGlyphs">00Z</text><text x="525.2" y="1206" textLength="56" lengthAdjust="spacingAndGlyphs">20OCT</text>
<text x="634.86" y="1188.2" textLength="30" lengthAdjust="spacingAndGlyphs">00Z</text><text x="621.86" y="1206" textLength="56" lengthAdjust="spacingAndGlyphs">21OCT</text>
<text x="731.52" y="1188.2" textLength="30" lengthAdjust="spacingAndGlyphs">00Z</text><text x="718.52" y="1206" textLength="56" lengthAdjust="spacingAndGlyphs">22OCT</text>
<text x="828.18" y="1188.2" textLength="30" lengthAdjust="spacingAndGlyphs">00Z</text><text x="815.18" y="1206" textLength="56" lengthAdjust="spacingAndGlyphs">23OCT</text>
<text x="924.84" y="1188.2" textLength="30" lengthAdjust="spacingAndGlyphs">00Z</text><text x="911.84" y="1206" textLength="56" lengthAdjust="spacingAndGlyphs">24OCT</text>
<text x="1021.5" y="1188.2" textLength="30" lengthAdjust="spacingAndGlyphs">00Z</text><text x="1008.5" y="1206" textLength="56" lengthAdjust="spacingAndGlyphs">25OCT</text>
<text x="1118.16" y="1188.2" textLength="30" lengthAdjust="spacingAndGlyphs">00Z</text><text x="1105.16" y="1206" textLength="56" lengthAdjust="spacingAndGlyphs">26OCT</text>
<text x="1214.82" y="1188.2" textLength="30" lengthAdjust="spacingAndGlyphs">00Z</text><text x="1201.82" y="1206" textLength="56" lengthAdjust="spacingAndGlyphs">27OCT</text>
<text x="1311.48" y="1188.2" textLength="30" lengthAdjust="spacingAndGlyphs">00Z</text><text x="1298.48" y="1206" textLength="56" lengthAdjust="spacingAndGlyphs">28OCT</text>
<text x="1408.14" y="1188.2" textLength="30" lengthAdjust="spacingAndGlyphs">00Z</text><text x="1395.14" y="1206" textLength="56" lengthAdjust="spacingAndGlyphs">29OCT</text>
<text x="1504.8" y="1188.2" textLength="30" lengthAdjust="spacingAndGlyphs">00Z</text><text x="1491.8" y="1206" textLength="56" lengthAdjust="spacingAndGlyphs">30OCT</text>
</g>

<!-- panel titles -->
<g class="pt">
<text x="70.5" y="175.6" textLength="254" lengthAdjust="spacingAndGlyphs">Total Cloud Cover (%)</text>
<text x="70.5" y="429.4" textLength="327" lengthAdjust="spacingAndGlyphs">Total precipitation (mm/6h)</text>
<text x="72" y="683.1" textLength="273" lengthAdjust="spacingAndGlyphs">10m wind speed (m/s)</text>
<text x="72.4" y="944.1" textLength="166" lengthAdjust="spacingAndGlyphs">2m Temp (°C)</text>
</g>

<!-- main titles -->
<text x="72.6" y="42.3" font-size="31.5" textLength="387" lengthAdjust="spacingAndGlyphs">CMA-GEPS Meteogram</text>
<text x="72.6" y="83.8" font-size="26.6" textLength="126.6" lengthAdjust="spacingAndGlyphs">Myitkyina</text>
<text x="219.5" y="83.8" font-size="26.6" font-weight="bold" textLength="116.5" lengthAdjust="spacingAndGlyphs">25.37°N</text>
<text x="356.2" y="83.8" font-size="26.6" font-weight="bold" textLength="114.8" lengthAdjust="spacingAndGlyphs">97.40°E</text>
<text x="72.6" y="127" font-size="26.6" textLength="104.4" lengthAdjust="spacingAndGlyphs">IniTime:</text>
<text x="199" y="127" font-size="26.6" textLength="147" lengthAdjust="spacingAndGlyphs">20251015</text>
<text x="366" y="127" font-size="26.6" textLength="91" lengthAdjust="spacingAndGlyphs">00UTC</text>

<!-- legend box -->
<path d="M1026.7 29.1V161.5" stroke="#000" stroke-width="1.6" fill="none"/>
<rect x="1021.4" y="52" width="10.6" height="86.2" fill="#00c8c8" stroke="#000" stroke-width="2.4"/>
<rect x="1016.4" y="73.6" width="20.6" height="42.6" fill="#00c8c8" stroke="#000" stroke-width="2.4"/>
<path d="M1016.4 95.3H1037" stroke="#000" stroke-width="2.4" fill="none"/>
<g class="lg">
<text x="1035" y="36.2" textLength="33" lengthAdjust="spacingAndGlyphs">max</text>
<text x="1044" y="58" textLength="32" lengthAdjust="spacingAndGlyphs">90%</text>
<text x="1051" y="79.4" textLength="31" lengthAdjust="spacingAndGlyphs">75%</text>
<text x="1056" y="101.5" textLength="56" lengthAdjust="spacingAndGlyphs">median</text>
<text x="1051" y="122.6" textLength="31" lengthAdjust="spacingAndGlyphs">25%</text>
<text x="1045" y="144.7" textLength="31" lengthAdjust="spacingAndGlyphs">10%</text>
<text x="1035" y="166.8" textLength="31" lengthAdjust="spacingAndGlyphs">min</text>
</g>
<path d="M1142 73.2H1215" stroke="#ff3a3a" stroke-width="3.5" stroke-linecap="round" fill="none"/>
<path d="M1142 138.9H1215" stroke="#1e3cff" stroke-width="3.5" stroke-linecap="round" fill="none"/>
<text x="1230" y="82" font-size="23" font-weight="bold" style="fill:#ff3a3a" textLength="38" lengthAdjust="spacingAndGlyphs">Ctrl</text>
<text x="1230" y="147.3" font-size="23" font-weight="bold" style="fill:#1e3cff" textLength="176.6" lengthAdjust="spacingAndGlyphs">Ensemble Mean</text>
</g>
</svg>
</body>
</html>
